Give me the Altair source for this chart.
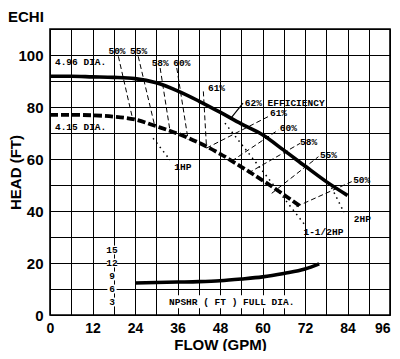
import altair as alt
import pandas as pd

# ---- data ----
flow_496 = [0, 6, 12, 18, 24, 30, 36, 42, 48, 54, 60, 66, 72, 78, 84]
head_496 = [91.8, 91.8, 91.6, 91.4, 90.9, 89.3, 86.2, 82.3, 78.0, 73.5, 69.3, 63.4, 57.3, 51.3, 46.0]

flow_415 = [0, 6, 12, 18, 24, 30, 36, 42, 48, 54, 60, 66, 71]
head_415 = [77.0, 77.0, 76.8, 76.3, 75.2, 72.6, 69.8, 66.3, 62.0, 57.0, 51.8, 46.3, 41.5]

flow_npsh = [24, 30, 36, 42, 48, 54, 60, 66, 72, 76]
npshr_ft = [7.4, 7.5, 7.6, 7.7, 7.9, 8.3, 8.8, 9.6, 10.6, 11.8]
npsh_ticks = [3, 6, 9, 12, 15]
npsh_tick_flow = 17.5
NPSH_TO_HEAD = 5 / 3  # 3 ft NPSHR per 5 ft of head grid

eff_names = ["50L", "55L", "58L", "60L", "61T", "61R", "60R", "58R", "55R", "50R"]
eff_flow_a = [19.3, 24.9, 31.1, 35.8, 43.3, 61.6, 64.5, 70.6, 75.8, 85.2]
eff_head_a = [99.5, 99.5, 95.0, 95.0, 86.0, 76.3, 71.2, 66.0, 60.9, 51.3]
eff_flow_b = [23.4, 29.6, 33.9, 39.0, 44.2, 44.2, 51.3, 56.0, 62.6, 69.6]
eff_head_b = [75.0, 72.6, 70.7, 67.4, 64.2, 64.2, 59.2, 54.6, 46.8, 41.7]

lead_flow = [54.5, 51.2]
lead_head = [81.5, 75.9]

hp_names = ["1HP", "1-1/2HP", "2HP"]
hp_flow_a = [29.1, 49.4, 79.5]
hp_head_a = [68.0, 73.8, 49.0]
hp_flow_b = [33.9, 72.0, 83.0]
hp_head_b = [59.6, 34.6, 39.5]

lbl_text = ["50%", "55%", "58%", "60%", "61%", "62% EFFICIENCY", "61%", "60%", "58%", "55%", "50%",
            "4.96 DIA.", "4.15 DIA."]
lbl_flow = [16.5, 22.6, 28.7, 34.8, 44.6, 55.0, 62.1, 64.9, 70.6, 76.2, 85.6, 1.4, 1.4]
lbl_head = [101.5, 101.5, 96.9, 96.9, 87.3, 81.7, 77.6, 71.8, 66.7, 61.5, 51.9, 97.4, 72.4]

hp_lbl_flow = [37.5, 77.2, 88.2]
hp_lbl_head = [56.8, 32.0, 36.8]

npsh_title = "NPSHR ( FT ) FULL DIA."
npsh_title_flow = 51.3
npsh_title_head = 5.0
npsh_box_flow = [33.2, 69.4]
npsh_box_head = [2.6, 7.6]

# ---- tables ----
solid = pd.DataFrame({
    "flow": flow_496 + flow_npsh,
    "head": head_496 + [v * NPSH_TO_HEAD for v in npshr_ft],
    "curve": ["4.96"] * len(flow_496) + ["npsh"] * len(flow_npsh),
})
dashed = pd.DataFrame({"flow": flow_415, "head": head_415})

eff = pd.DataFrame({
    "flow": eff_flow_a + eff_flow_b,
    "head": eff_head_a + eff_head_b,
    "name": eff_names + eff_names,
})
lead = pd.DataFrame({"flow": lead_flow, "head": lead_head})
hp = pd.DataFrame({
    "flow": hp_flow_a + hp_flow_b,
    "head": hp_head_a + hp_head_b,
    "name": hp_names + hp_names,
})
labels = pd.DataFrame({"flow": lbl_flow, "head": lbl_head, "text": lbl_text})
hp_labels = pd.DataFrame({"flow": hp_lbl_flow, "head": hp_lbl_head, "text": hp_names})
npsh_lbl = pd.DataFrame({
    "flow": [npsh_tick_flow] * len(npsh_ticks),
    "head": [v * NPSH_TO_HEAD for v in npsh_ticks],
    "text": [str(v) for v in npsh_ticks],
})
npsh_t = pd.DataFrame({"flow": [npsh_title_flow], "head": [npsh_title_head], "text": [npsh_title]})
box = pd.DataFrame({"flow": [npsh_box_flow[0]], "flow2": [npsh_box_flow[1]],
                    "head": [npsh_box_head[0]], "head2": [npsh_box_head[1]]})
tick_box = pd.DataFrame({
    "flow": [npsh_tick_flow - 1.3] * len(npsh_ticks),
    "flow2": [npsh_tick_flow + 1.3] * len(npsh_ticks),
    "head": [v * NPSH_TO_HEAD - 1.7 for v in npsh_ticks],
    "head2": [v * NPSH_TO_HEAD + 1.7 for v in npsh_ticks],
})

# ---- encodings ----
def X():
    return alt.X("flow:Q", scale=alt.Scale(domain=[0, 96], nice=False, zero=False),
                 axis=alt.Axis(values=list(range(0, 97, 6)),
                               labelExpr="datum.value % 12 == 0 ? datum.label : ''",
                               labelAlign={"condition": {"test": "datum.value >= 96", "value": "right"},
                                           "value": "center"},
                               title="FLOW (GPM)", grid=True, ticks=False, domain=False,
                               labelPadding=6, labelFontSize=14, labelFlush=False,
                               titleY=34, titleBaseline="alphabetic"))

def Y():
    return alt.Y("head:Q", scale=alt.Scale(domain=[0, 110], nice=False, zero=False),
                 axis=alt.Axis(values=list(range(0, 111, 10)),
                               labelExpr="datum.value % 20 == 0 ? datum.label : ''",
                               title="HEAD (FT)", grid=True, ticks=False, domain=False,
                               labelPadding=7, labelFlush=False,
                               titleX=-35, titleBaseline="middle"))

MONO = "Liberation Mono"

l_box = alt.Chart(box).mark_rect(color="white").encode(x=X(), x2="flow2:Q", y=Y(), y2="head2:Q")
l_tbox = alt.Chart(tick_box).mark_rect(color="white").encode(x=X(), x2="flow2:Q", y=Y(), y2="head2:Q")

l_solid = alt.Chart(solid).mark_line(color="black", strokeWidth=3.6, interpolate="monotone").encode(
    x=X(), y=Y(), detail="curve:N")
l_dashed = alt.Chart(dashed).mark_line(color="black", strokeWidth=3.8, strokeDash=[8, 3],
                                       interpolate="monotone").encode(x=X(), y=Y())
l_eff = alt.Chart(eff).mark_line(color="black", strokeWidth=1, strokeDash=[5, 3]).encode(
    x=X(), y=Y(), detail="name:N")
l_lead = alt.Chart(lead).mark_line(color="black", strokeWidth=1.2).encode(x=X(), y=Y())
l_hp = alt.Chart(hp).mark_line(color="black", strokeWidth=1.5, strokeDash=[1.5, 4]).encode(
    x=X(), y=Y(), detail="name:N")

l_lbl = alt.Chart(labels).mark_text(align="left", baseline="middle", font=MONO, fontWeight="bold",
                                    fontSize=9.5, color="black").encode(x=X(), y=Y(), text="text:N")
l_hplbl = alt.Chart(hp_labels).mark_text(align="center", baseline="middle", font=MONO, fontWeight="bold",
                                         fontSize=9.5, color="black").encode(x=X(), y=Y(), text="text:N")
l_npl = alt.Chart(npsh_lbl).mark_text(align="center", baseline="middle", font=MONO, fontWeight="bold",
                                      fontSize=9.5, color="black").encode(x=X(), y=Y(), text="text:N")
l_npt = alt.Chart(npsh_t).mark_text(align="center", baseline="middle", font=MONO, fontWeight="bold",
                                    fontSize=9.5, color="black").encode(x=X(), y=Y(), text="text:N")

chart = alt.layer(
    l_box, l_tbox, l_solid, l_dashed, l_eff, l_lead, l_hp, l_lbl, l_hplbl, l_npl, l_npt
).properties(
    width=340, height=286,
    autosize="none",
    padding={"left": 42, "top": 21, "right": 2, "bottom": 36},
    title=alt.TitleParams("ECHI", anchor="start", frame="group", dx=-42, offset=4,
                          font="Liberation Sans", fontWeight="bold", fontSize=15, color="black"),
).configure_axis(
    gridColor="black", gridOpacity=1, gridWidth=1,
    labelFont="Liberation Sans", labelFontWeight="bold", labelFontSize=15, labelColor="black",
    titleFont="Liberation Sans", titleFontWeight="bold", titleFontSize=15, titleColor="black",
).configure_view(stroke="black", strokeWidth=1.6)

chart.save("out.html", embed_options={"renderer": "svg", "actions": False})
